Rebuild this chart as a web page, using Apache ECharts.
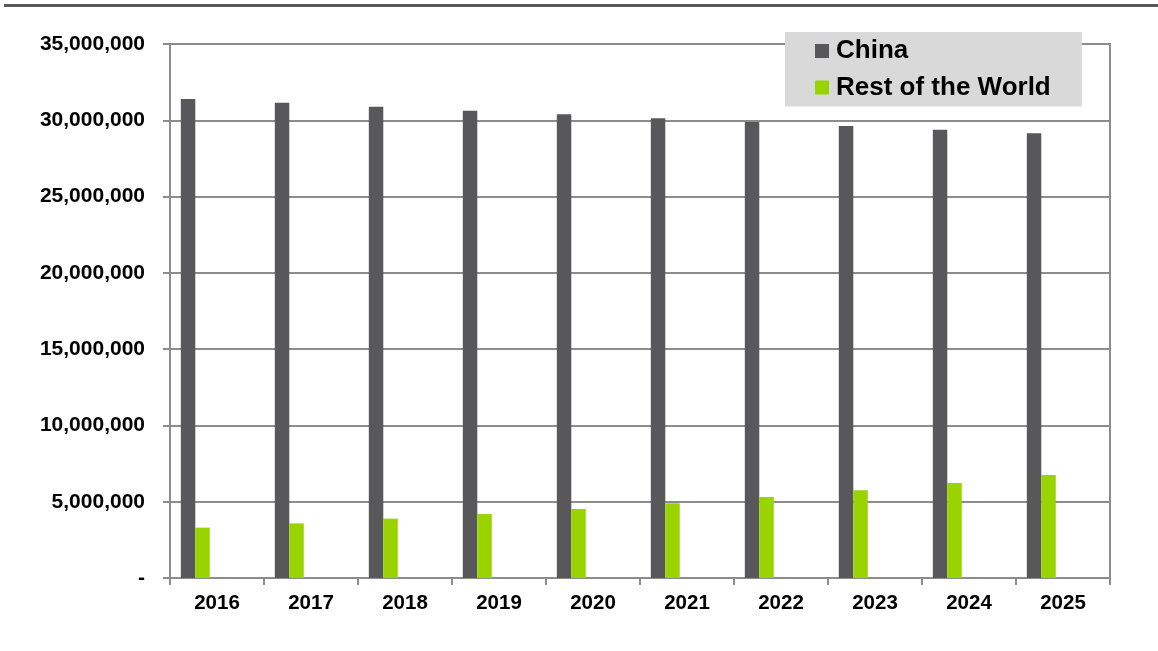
<!DOCTYPE html>
<html>
<head>
<meta charset="utf-8">
<script src="https://cdn.jsdelivr.net/npm/echarts@6/dist/echarts.min.js"></script>
<style>
  html, body { margin: 0; padding: 0; background: #fff; }
  #chart { width: 1158px; height: 651px; }
</style>
</head>
<body>
<div id="chart"></div>
<script>
// years on the x axis
var years = ['2016', '2017', '2018', '2019', '2020', '2021', '2022', '2023', '2024', '2025'];
// values
var china = [31400000, 31150000, 30890000, 30630000, 30390000, 30130000, 29890000, 29630000, 29380000, 29150000];
var restOfWorld = [3300000, 3580000, 3890000, 4190000, 4520000, 4900000, 5310000, 5750000, 6230000, 6750000];
var seriesNames = ['China', 'Rest of the World'];

var myChart = echarts.init(document.getElementById('chart'));

var gridGray = '#8c8c8c';
var labelFont = 'Liberation Sans, Arial, sans-serif';

// bars sit in the left part of each category in the original, so keep 3 empty slots after them
var emptySlot = function (n) {
    return {
        name: 'pad' + n,
        type: 'bar',
        data: [],
        barGap: 0,
        barCategoryGap: '23%'
    };
};

var option = {
    backgroundColor: '#fff',
    animation: false,
    graphic: [{
        type: 'rect',
        left: 4,
        top: 4,
        shape: { width: 1154, height: 3 },
        style: { fill: '#595959' }
    }],
    legend: {
        data: seriesNames,
        orient: 'vertical',
        left: 785,
        top: 32,
        backgroundColor: '#d9d9d9',
        padding: [6, 31, 6, 30],
        itemWidth: 14,
        itemHeight: 14,
        itemGap: 10.5,
        icon: 'rect',
        textStyle: {
            fontFamily: labelFont,
            fontWeight: 'bold',
            fontSize: 26,
            lineHeight: 26,
            color: '#000',
            padding: [0, 0, 0, 2]
        }
    },
    grid: {
        left: 170,
        right: 48,
        top: 44,
        bottom: 73,
        show: true,
        borderColor: gridGray,
        borderWidth: 2
    },
    xAxis: {
        type: 'category',
        data: years,
        boundaryGap: true,
        axisLine: { lineStyle: { color: gridGray, width: 2 } },
        axisTick: { show: true, length: 7, interval: 0, lineStyle: { color: gridGray, width: 2 } },
        axisLabel: {
            margin: 15,
            interval: 0,
            fontFamily: labelFont,
            fontWeight: 'bold',
            fontSize: 20.5,
            color: '#000'
        }
    },
    yAxis: {
        type: 'value',
        min: 0,
        max: 35000000,
        interval: 5000000,
        axisLine: { show: true, lineStyle: { color: gridGray, width: 2 } },
        axisTick: { show: true, length: 7, lineStyle: { color: gridGray, width: 2 } },
        splitLine: { lineStyle: { color: gridGray, width: 2 } },
        axisLabel: {
            margin: 25,
            fontFamily: labelFont,
            fontWeight: 'bold',
            fontSize: 21,
            color: '#000',
            formatter: function (v) {
                return v === 0 ? '-' : v.toLocaleString('en-US');
            }
        }
    },
    series: [
        {
            name: 'China',
            type: 'bar',
            data: china,
            barGap: 0,
            barCategoryGap: '23%',
            itemStyle: { color: '#58585a' }
        },
        {
            name: 'Rest of the World',
            type: 'bar',
            data: restOfWorld,
            barGap: 0,
            barCategoryGap: '23%',
            itemStyle: { color: '#99d400' }
        },
        emptySlot(1),
        emptySlot(2),
        emptySlot(3)
    ]
};

myChart.setOption(option);
window.addEventListener('resize', function () {
    myChart.resize();
});
</script>
</body>
</html>
